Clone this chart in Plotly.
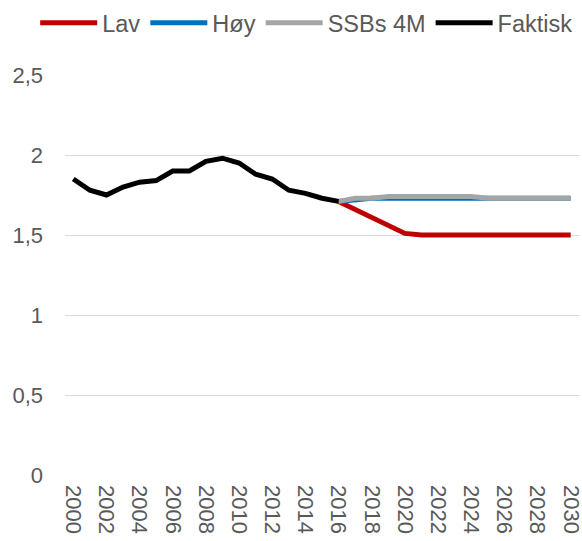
import plotly.graph_objects as go

years = list(range(2000, 2031))
faktisk_years = list(range(2000, 2017))
faktisk = [1.85, 1.78, 1.75, 1.80, 1.83, 1.84, 1.90, 1.90, 1.96, 1.98, 1.95,
           1.88, 1.85, 1.78, 1.76, 1.73, 1.71]
proj_years = list(range(2016, 2031))
lav = [1.71, 1.66, 1.61, 1.56, 1.51, 1.50, 1.50, 1.50, 1.50, 1.50, 1.50,
       1.50, 1.50, 1.50, 1.50]
hoy = [1.71, 1.72, 1.73, 1.73, 1.73, 1.73, 1.73, 1.73, 1.73, 1.73, 1.73,
       1.73, 1.73, 1.73, 1.73]
ssb = [1.71, 1.73, 1.73, 1.74, 1.74, 1.74, 1.74, 1.74, 1.74, 1.73, 1.73,
       1.73, 1.73, 1.73, 1.73]
x_ticks = list(range(2000, 2031, 2))
y_ticks = [0, 0.5, 1, 1.5, 2, 2.5]
y_labels = ["0", "0,5", "1", "1,5", "2", "2,5"]

fig = go.Figure()
fig.add_trace(go.Scatter(x=proj_years, y=lav, name="Lav", mode="lines",
                         line=dict(color="#C00000", width=5)))
fig.add_trace(go.Scatter(x=proj_years, y=hoy, name="Høy", mode="lines",
                         line=dict(color="#0070C0", width=5)))
fig.add_trace(go.Scatter(x=proj_years, y=ssb, name="SSBs 4M", mode="lines",
                         line=dict(color="#A5A5A5", width=5)))
fig.add_trace(go.Scatter(x=faktisk_years, y=faktisk, name="Faktisk", mode="lines",
                         line=dict(color="#000000", width=5)))

fig.update_layout(
    width=582, height=541,
    margin=dict(l=65, r=3, t=75, b=66, autoexpand=False),
    paper_bgcolor="white", plot_bgcolor="white",
    font=dict(family="Liberation Sans, Arial, sans-serif", size=22, color="#595959"),
    showlegend=True,
    legend=dict(orientation="h", xref="paper", yref="paper",
                x=-0.058, xanchor="left", y=1.185, yanchor="top",
                font=dict(size=23.5, color="#595959"), itemwidth=57,
                tracegroupgap=0, traceorder="normal", bgcolor="rgba(0,0,0,0)"),
    xaxis=dict(range=[1999.5, 2030.5], tickmode="array", tickvals=x_ticks,
               ticktext=[str(v) for v in x_ticks], tickangle=90, showgrid=False,
               zeroline=False, showline=False, ticks="", automargin=False,
               ticklabelstandoff=9, ticklabeloverflow="allow"),
    yaxis=dict(range=[0, 2.5], tickmode="array", tickvals=y_ticks, ticktext=y_labels,
               showgrid=True, gridcolor="#D9D9D9", gridwidth=1, zeroline=False,
               showline=False, ticks="", ticklabelstandoff=21, automargin=False),
)
fig.write_html("out.html", post_script="document.body.style.margin='0';",
               config={"displayModeBar": False})
